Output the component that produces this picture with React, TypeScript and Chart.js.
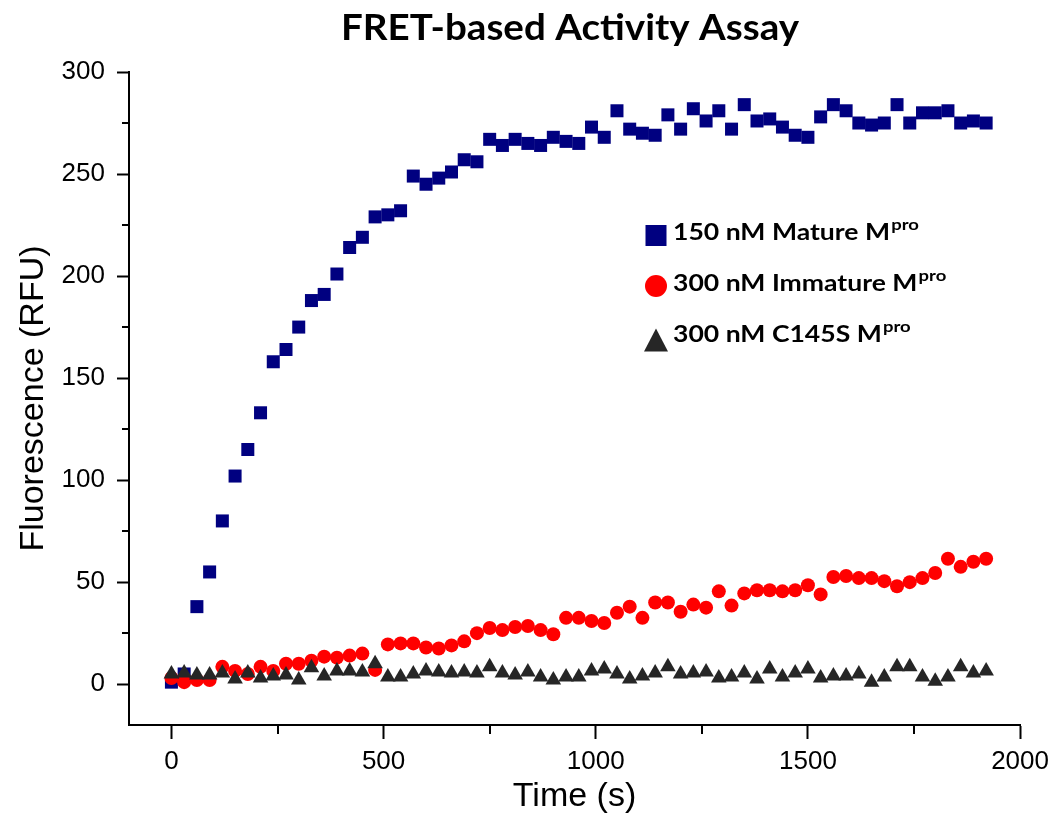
import React, { useEffect, useRef } from 'react';
import { Chart, registerables } from 'chart.js';

Chart.register(...registerables);

// ---------- data ----------
const timeS = [
  0, 30, 60, 90, 120, 150, 180, 210, 240, 270, 300, 330, 360, 390, 420, 450, 480, 510, 540, 570,
  600, 630, 660, 690, 720, 750, 780, 810, 840, 870, 900, 930, 960, 990, 1020, 1050, 1080, 1110,
  1140, 1170, 1200, 1230, 1260, 1290, 1320, 1350, 1380, 1410, 1440, 1470, 1500, 1530, 1560, 1590,
  1620, 1650, 1680, 1710, 1740, 1770, 1800, 1830, 1860, 1890, 1920,
];

const matureMpro = [
  1, 5, 38, 55, 80, 102, 115, 133, 158, 164, 175, 188, 191, 201, 214, 219, 229, 230, 232, 249,
  245, 248, 251, 257, 256, 267, 264, 267, 265, 264, 268, 266, 265, 273, 268, 281, 272, 270, 269,
  279, 272, 282, 276, 281, 272, 284, 276, 277, 273, 269, 268, 278, 284, 281, 275, 274, 275, 284,
  275, 280, 280, 281, 275, 276, 275,
];

const immatureMpro = [
  3, 1, 2, 2, 8.5, 6.5, 5, 8.5, 6.5, 10, 10, 11.5, 13.5, 13, 14, 15, 7, 19.5, 20, 20, 18, 17.5,
  19, 21, 25, 27.5, 26.5, 28, 28.5, 26.5, 24.5, 32.5, 32.5, 31, 30, 35, 38, 32.5, 40, 40, 35.5,
  39, 37.5, 45.5, 38.5, 44.5, 46, 46, 45.5, 46, 48.5, 44, 52.5, 53, 52, 52, 50.5, 48, 50, 52,
  54.5, 61.5, 57.5, 60, 61.5,
];

const c145sMpro = [
  5, 5.5, 4.5, 4.5, 5.5, 2.5, 5.5, 3, 4, 4.5, 2, 8, 4, 6.5, 6.5, 6, 10, 3.5, 3.5, 5, 6.5, 6, 5.5,
  6, 5.5, 8.5, 5.5, 4.5, 6, 3.5, 2, 3.5, 3.5, 6.5, 7.5, 5, 2.5, 4, 5.5, 8.5, 5, 5.5, 6, 3, 3.5,
  5.5, 2.5, 7.5, 3.5, 5.5, 7.5, 3, 4, 4, 5, 1, 3.5, 8.5, 8.5, 3.5, 1.5, 3.5, 8.5, 5.5, 6.5,
];

const seriesLabels = ['150 nM Mature M', '300 nM Immature M', '300 nM C145S M'];
const labelSuperscript = 'pro';
const seriesColors = ['#000080', '#ff0000', '#262626'];
const seriesStyles = ['rect', 'circle', 'triangle'];

const chartTitle = 'FRET-based Activity Assay';
const xAxisTitle = 'Time (s)';
const yAxisTitle = 'Fluorescence (RFU)';

const xRange = [-100, 2000];
const yRange = [-20, 300];
const xTickValues = [0, 500, 1000, 1500, 2000];
const yTickValues = [0, 50, 100, 150, 200, 250, 300];

const AXIS_FONT = '"Liberation Sans", Arial, sans-serif';
const LABEL_FONT = 'Lato, "Open Sans", sans-serif';

const toPoints = (ys: number[]) => timeS.map((t, i) => ({ x: t, y: ys[i] }));

const decorPlugin = {
  id: 'decor',
  afterDraw(chart: any) {
    const { ctx, chartArea, scales } = chart;
    const xs = scales.x;
    const ys = scales.y;
    ctx.save();

    // minor ticks (midpoints between major ticks)
    ctx.strokeStyle = '#000';
    ctx.lineWidth = 2;
    for (let i = 0; i < xTickValues.length - 1; i++) {
      const p = Math.round(xs.getPixelForValue((xTickValues[i] + xTickValues[i + 1]) / 2));
      ctx.beginPath();
      ctx.moveTo(p, chartArea.bottom);
      ctx.lineTo(p, chartArea.bottom + 9);
      ctx.stroke();
    }
    for (let i = 0; i < yTickValues.length - 1; i++) {
      const p = Math.round(ys.getPixelForValue((yTickValues[i] + yTickValues[i + 1]) / 2));
      ctx.beginPath();
      ctx.moveTo(chartArea.left, p);
      ctx.lineTo(chartArea.left - 7, p);
      ctx.stroke();
    }

    // title
    ctx.fillStyle = '#000';
    ctx.font = `bold 37px ${LABEL_FONT}`;
    const tw = ctx.measureText(chartTitle).width;
    ctx.save();
    ctx.translate(570, 40);
    ctx.scale(458 / tw, 1);
    ctx.textAlign = 'center';
    ctx.textBaseline = 'alphabetic';
    ctx.fillText(chartTitle, 0, 0);
    ctx.restore();

    // legend
    ctx.font = `bold 23px ${LABEL_FONT}`;
    const sx = 217 / ctx.measureText(seriesLabels[0]).width;
    const baseline0 = 239.5;
    const gap = 51;
    const mx = 656;
    seriesLabels.forEach((label, i) => {
      const b = baseline0 + gap * i;
      ctx.fillStyle = seriesColors[i];
      const style = seriesStyles[i];
      if (style === 'rect') {
        ctx.fillRect(mx - 10.5, b - 14.5, 21, 21);
      } else if (style === 'circle') {
        ctx.beginPath();
        ctx.arc(mx, b - 4.5, 11, 0, Math.PI * 2);
        ctx.fill();
      } else {
        ctx.beginPath();
        ctx.moveTo(mx, b - 13);
        ctx.lineTo(mx + 12, b + 10);
        ctx.lineTo(mx - 12, b + 10);
        ctx.closePath();
        ctx.fill();
      }
      ctx.fillStyle = '#000';
      ctx.save();
      ctx.translate(673, b);
      ctx.scale(sx, 1);
      ctx.font = `bold 23px ${LABEL_FONT}`;
      ctx.textAlign = 'left';
      ctx.textBaseline = 'alphabetic';
      ctx.fillText(label, 0, 0);
      const w = ctx.measureText(label).width;
      ctx.font = `bold 16px ${LABEL_FONT}`;
      ctx.fillText(labelSuperscript, w + 1, -10);
      ctx.restore();
    });

    ctx.restore();
  },
};

export default function App() {
  const canvasRef = useRef<HTMLCanvasElement | null>(null);

  useEffect(() => {
    if (!canvasRef.current) return;
    const pointSizes = [9.2, 7, 9];
    const datasets = [matureMpro, immatureMpro, c145sMpro].map((vals, i) => ({
      label: seriesLabels[i],
      data: toPoints(vals),
      showLine: false,
      pointStyle: seriesStyles[i],
      pointRadius: pointSizes[i],
      pointBackgroundColor: seriesColors[i],
      pointBorderColor: seriesColors[i],
      pointBorderWidth: 0,
      backgroundColor: seriesColors[i],
      borderColor: seriesColors[i],
      order: 3 - i,
      clip: false as any,
    }));

    const chart = new Chart(canvasRef.current, {
      type: 'scatter',
      data: { datasets },
      options: {
        responsive: false,
        animation: false,
        events: [],
        layout: { padding: { top: 72, right: 35, left: 0, bottom: 0 } },
        plugins: {
          legend: { display: false },
          title: { display: false },
          tooltip: { enabled: false },
        },
        scales: {
          x: {
            type: 'linear',
            min: xRange[0],
            max: xRange[1],
            afterBuildTicks: (s: any) => {
              s.ticks = xTickValues.map((v) => ({ value: v }));
            },
            ticks: {
              font: { family: AXIS_FONT, size: 26 },
              color: '#000',
              padding: 7,
              maxRotation: 0,
              autoSkip: false,
              callback: (v: any) => String(v),
            },
            grid: {
              drawOnChartArea: false,
              drawTicks: true,
              tickLength: 14,
              tickWidth: 2,
              tickColor: '#000',
            },
            border: { display: true, color: '#000', width: 2 },
            title: {
              display: true,
              text: xAxisTitle,
              color: '#000',
              font: { family: AXIS_FONT, size: 34, lineHeight: 1 },
              padding: { top: 0, bottom: 2 },
            },
            afterFit: (s: any) => {
              s.height = 91;
            },
          },
          y: {
            type: 'linear',
            min: yRange[0],
            max: yRange[1],
            afterBuildTicks: (s: any) => {
              s.ticks = yTickValues.map((v) => ({ value: v }));
            },
            ticks: {
              font: { family: AXIS_FONT, size: 26 },
              color: '#000',
              padding: 12,
              autoSkip: false,
              callback: (v: any) => String(v),
            },
            grid: {
              drawOnChartArea: false,
              drawTicks: true,
              tickLength: 12,
              tickWidth: 2,
              tickColor: '#000',
            },
            border: { display: true, color: '#000', width: 2 },
            title: {
              display: true,
              text: yAxisTitle,
              color: '#000',
              font: { family: AXIS_FONT, size: 34, lineHeight: 1 },
              padding: { top: 17, bottom: 0 },
            },
            afterFit: (s: any) => {
              s.width = 129;
            },
          },
        },
      } as any,
      plugins: [decorPlugin],
    });
    return () => chart.destroy();
  }, []);

  return (
    <div style={{ position: 'fixed', left: 0, top: 0, width: 1056, height: 816, background: '#fff' }}>
      <canvas ref={canvasRef} width={1056} height={816} />
    </div>
  );
}
